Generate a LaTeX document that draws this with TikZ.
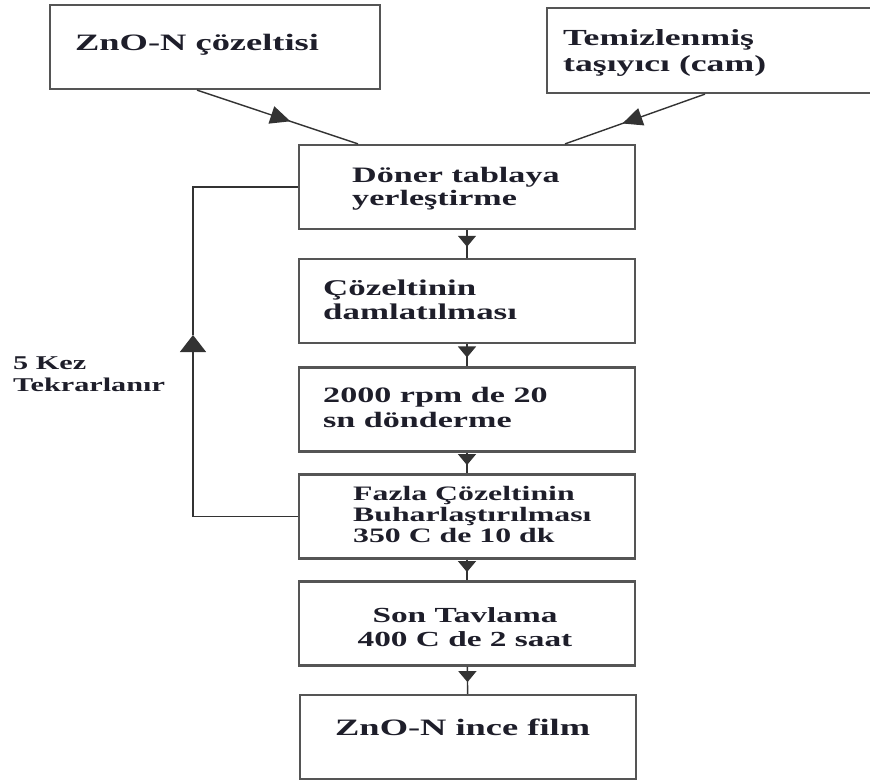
\documentclass[tikz,border=0pt]{standalone}
\usepackage{fontspec}
\newfontfamily\kutufont{Liberation Serif}[FakeStretch=1.55]
\usetikzlibrary{arrows.meta,decorations.markings}
\definecolor{kenar}{HTML}{555555}
\definecolor{cizgi}{HTML}{333333}
\definecolor{yazirenk}{HTML}{1E1E2A}
\tikzset{
  kutu/.style={draw=kenar, line width=2.2pt, fill=white, minimum width=336pt, minimum height=84pt, inner sep=0pt},
  yazi/.style={text=yazirenk, align=left, inner sep=0pt},
  boyut/.style 2 args={font=\kutufont\bfseries\fontsize{#1}{#2}\selectfont},
  ok/.style={draw=cizgi, line width=1.4pt, postaction={decorate},
    decoration={markings, mark=at position #1 with {\arrow{Triangle[width=18pt,length=11pt]}}}},
  ok/.default=0.6,
  capraz/.style={draw=cizgi, line width=1.4pt, postaction={decorate},
    decoration={markings, mark=at position #1 with {\arrow{Triangle[width=18pt,length=20pt]}}}}
}

\begin{document}
\begin{tikzpicture}[x=1pt,y=-1pt]
  \useasboundingbox (0,0) rectangle (870,782);
  % kutular
  \node[kutu, minimum width=330pt] (zno) at (215,47) {};
  \node[kutu, minimum width=328pt, minimum height=85pt] (cam) at (711,50.5) {};
  \node[kutu] (doner) at (467,187) {};
  \node[kutu] (damla) at (467,301) {};
  \node[kutu] (rpm) at (467,409.5) {};
  \node[kutu] (buhar) at (467,516.5) {};
  \node[kutu] (tavla) at (467,623.5) {};
  \node[kutu] (film) at (468,737) {};
  % yazilar
  \node[yazi, boyut={23.5}{26}, anchor=base west] (znoy) at (75,50) {ZnO-N çözeltisi};
  \node[yazi, boyut={23}{25}, anchor=west] (camy) at (563,53) {Temizlenmiş\\taşıyıcı (cam)};
  \node[yazi, boyut={22}{23}, anchor=west] (donery) at (352,188.5) {Döner tablaya\\yerleştirme};
  \node[yazi, boyut={22.5}{24}, anchor=west] (damlay) at (323,300) {Çözeltinin\\damlatılması};
  \node[yazi, boyut={22}{25}, anchor=west] (rpmy) at (323,407.5) {2000 rpm de 20\\sn dönderme};
  \node[yazi, boyut={20.5}{21}, anchor=west] (buhary) at (353,514.5) {Fazla Çözeltinin\\Buharlaştırılması\\350 C de 10 dk};
  \node[yazi, boyut={21.5}{24}, align=center] (tavlay) at (465,627) {Son Tavlama\\400 C de 2 saat};
  \node[yazi, boyut={23.5}{26}, anchor=base west] (filmy) at (335,735) {ZnO-N ince film};
  \node[yazi, boyut={19.5}{22}, anchor=west] (tekrar) at (13,374) {5 Kez\\Tekrarlanır};
  % oklar
  \draw[capraz=0.58] ([xshift=-18pt]zno.south) -- ([xshift=-109pt]doner.north);
  \draw[capraz=0.59] ([xshift=-6pt]cam.south) -- ([xshift=98pt]doner.north);
  \draw[ok] (doner) -- (damla);
  \draw[ok] (damla) -- (rpm);
  \draw[ok] (rpm) -- (buhar);
  \draw[ok] (buhar) -- (tavla);
  \draw[ok=0.57] (tavla) -- (film);
  % geri donus
  \coordinate (donus) at (193,335);
  \draw[draw=cizgi, line width=1.4pt, -{Triangle[width=26pt,length=17pt]}] (buhar.west) -| (donus);
  \draw[draw=cizgi, line width=1.4pt] (donus) |- (doner.west);
\end{tikzpicture}
\end{document}
